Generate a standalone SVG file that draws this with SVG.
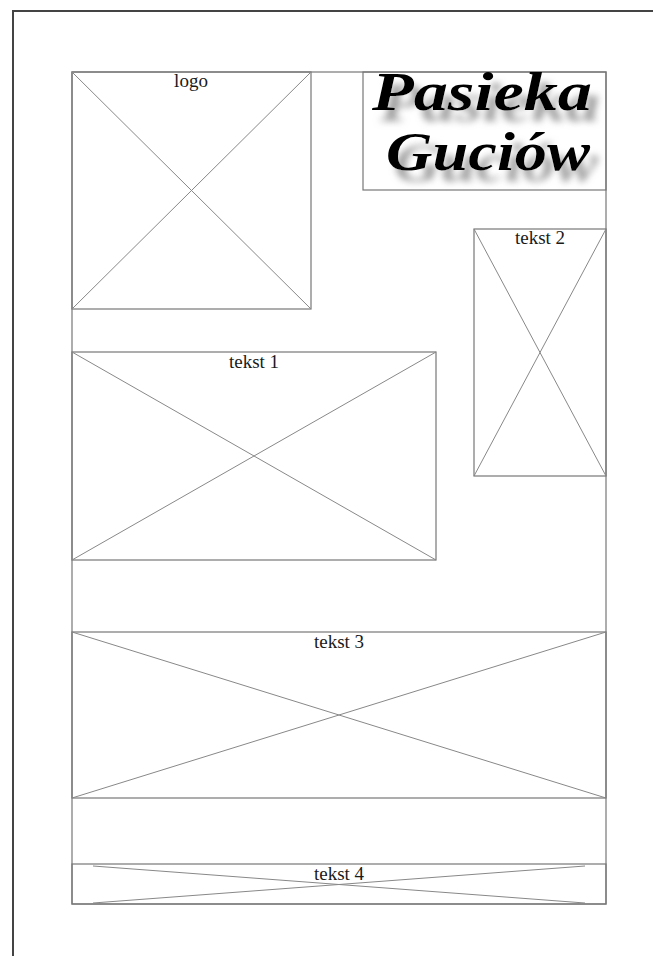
<svg xmlns="http://www.w3.org/2000/svg" width="653" height="956" viewBox="0 0 653 956">
<defs>
<style>
.box{fill:none;stroke:#777;stroke-width:1.2}
.x{stroke:#888;stroke-width:1}
.lbl{font-family:"Liberation Serif",serif;font-size:19px;fill:#1a1a1a;text-anchor:middle}
.title{font-family:"Liberation Serif",serif;font-weight:bold;font-style:italic;font-size:54px;fill:#000}
</style>
<filter id="shadow" x="-20%" y="-50%" width="140%" height="220%">
<feOffset in="SourceAlpha" dx="8" dy="11" result="off"/>
<feGaussianBlur in="off" stdDeviation="3.5" result="bl"/>
<feColorMatrix in="bl" type="matrix" values="0 0 0 0 0.3  0 0 0 0 0.3  0 0 0 0 0.3  0 0 0 0.9 0" result="sh"/>
<feMerge><feMergeNode in="sh"/><feMergeNode in="SourceGraphic"/></feMerge>
</filter>
</defs>
<rect width="653" height="956" fill="#fff"/>
<path d="M13,960 V11 H660" fill="none" stroke="#444" stroke-width="2"/>
<g id="page"><rect class="box" x="72" y="72" width="534" height="832"/></g>
<g id="logo">
<rect class="box" x="72" y="72" width="239" height="237"/>
<line class="x" x1="72" y1="72" x2="311" y2="309"/><line class="x" x1="311" y1="72" x2="72" y2="309"/>
<text class="lbl" x="191" y="87">logo</text>
</g>
<g id="title">
<rect class="box" x="363" y="72" width="243" height="118"/>
<g filter="url(#shadow)">
<text class="title" x="372" y="110" textLength="220" lengthAdjust="spacingAndGlyphs">Pasieka</text>
<text class="title" x="386" y="170" textLength="204" lengthAdjust="spacingAndGlyphs">Guciów</text>
</g>
</g>
<g id="tekst2">
<rect class="box" x="474" y="229" width="132" height="247"/>
<line class="x" x1="474" y1="229" x2="606" y2="476"/><line class="x" x1="606" y1="229" x2="474" y2="476"/>
<text class="lbl" x="540" y="244">tekst 2</text>
</g>
<g id="tekst1">
<rect class="box" x="72" y="352" width="364" height="208"/>
<line class="x" x1="72" y1="352" x2="436" y2="560"/><line class="x" x1="436" y1="352" x2="72" y2="560"/>
<text class="lbl" x="254" y="368">tekst 1</text>
</g>
<g id="tekst3">
<rect class="box" x="72" y="632" width="534" height="166"/>
<line class="x" x1="72" y1="632" x2="606" y2="798"/><line class="x" x1="606" y1="632" x2="72" y2="798"/>
<text class="lbl" x="339" y="648">tekst 3</text>
</g>
<g id="tekst4">
<rect class="box" x="72" y="864" width="534" height="40"/>
<line class="x" x1="93" y1="866" x2="585" y2="903"/><line class="x" x1="585" y1="866" x2="93" y2="903"/>
<text class="lbl" x="339" y="880">tekst 4</text>
</g>
</svg>
